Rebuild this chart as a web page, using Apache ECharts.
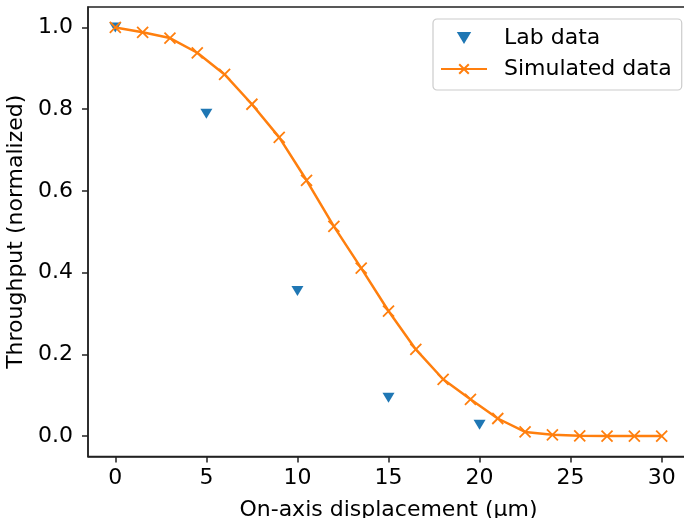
<!DOCTYPE html>
<html>
<head>
<meta charset="utf-8">
<script src="https://cdn.jsdelivr.net/npm/echarts@6/dist/echarts.min.js"></script>
<style>
html,body{margin:0;padding:0;background:#fff;}
#c{width:684px;height:518px;}
</style>
</head>
<body>
<div id="c"></div>
<script>
// ---- data ----
const labX = [0, 5, 10, 15, 20];
const labY = [1.0, 0.789, 0.355, 0.094, 0.028];
const simX = [0, 1.5, 3, 4.5, 6, 7.5, 9, 10.5, 12, 13.5, 15, 16.5, 18, 19.5, 21, 22.5, 24, 25.5, 27, 28.5, 30];
const simY = [1.0, 0.988, 0.974, 0.938, 0.885, 0.812, 0.731, 0.626, 0.513, 0.411, 0.306, 0.212, 0.139, 0.090, 0.043, 0.010, 0.003, 0.0005, 0.0, 0.0, 0.0];
const xTicks = [0, 5, 10, 15, 20, 25, 30];
const yTicks = [0.0, 0.2, 0.4, 0.6, 0.8, 1.0];
const seriesNames = ['Lab data', 'Simulated data'];
const xTitle = 'On-axis displacement (μm)';
const yTitle = 'Throughput (normalized)';

const FONT = 'DejaVu Sans';
const FS = 22;
const chart = echarts.init(document.getElementById('c'), null, {renderer: 'canvas'});
const zip = (a, b) => a.map((v, i) => [v, b[i]]);
const TRI_DOWN = 'path://M0,0L12,0L6,10Z';
const CROSS = 'path://M0,0L10,10M0,10L10,0';

chart.setOption({
  animation: false,
  backgroundColor: '#fff',
  textStyle: {fontFamily: FONT},
  grid: {left: 88, top: 7, right: -5, bottom: 61.5, containLabel: false, outerBoundsMode: 'none',
    show: true, borderColor: '#222', borderWidth: 1.5, backgroundColor: 'transparent'},
  legend: {
    orient: 'vertical',
    left: 433, top: 19,
    padding: [8, 10, 10, 7],
    itemGap: 9,
    itemWidth: 46, itemHeight: 12,
    borderColor: '#cccccc', borderWidth: 1.2, borderRadius: 4,
    backgroundColor: 'rgba(255,255,255,0.8)',
    textStyle: {fontFamily: FONT, fontSize: FS, color: '#000', padding: [0, 0, 0, 12]},
    data: [
      {name: seriesNames[0], icon: TRI_DOWN, itemStyle: {opacity: 1}},
      {name: seriesNames[1]}
    ]
  },
  xAxis: {
    type: 'value', min: -1.5, max: 31.5,
    name: xTitle, nameLocation: 'middle', nameGap: 43,
    nameTextStyle: {fontFamily: FONT, fontSize: FS, color: '#000'},
    axisLine: {show: true, onZero: false, lineStyle: {color: '#222', width: 1.5}},
    axisTick: {show: true, length: 6, customValues: xTicks, lineStyle: {color: '#222', width: 1.5}},
    axisLabel: {customValues: xTicks, margin: 11, fontFamily: FONT, fontSize: FS, color: '#000'},
    splitLine: {show: false}
  },
  yAxis: {
    type: 'value', min: -0.05, max: 1.05,
    name: yTitle, nameLocation: 'middle', nameGap: 55,
    nameTextStyle: {fontFamily: FONT, fontSize: FS, color: '#000'},
    axisLine: {show: true, onZero: false, lineStyle: {color: '#222', width: 1.5}},
    axisTick: {show: true, length: 6, customValues: yTicks, lineStyle: {color: '#222', width: 1.5}},
    axisLabel: {customValues: yTicks, margin: 15, fontFamily: FONT, fontSize: FS, color: '#000',
      formatter: v => v.toFixed(1)},
    splitLine: {show: false}
  },
  series: [
    {
      name: seriesNames[0], type: 'scatter',
      data: zip(labX, labY),
      symbol: TRI_DOWN, symbolSize: [12, 10],
      itemStyle: {color: '#1f77b4', opacity: 1},
      z: 3
    },
    {
      name: seriesNames[1], type: 'line',
      data: zip(simX, simY),
      symbol: CROSS, symbolSize: 11,
      showAllSymbol: true,
      lineStyle: {color: '#ff7f0e', width: 2.5},
      itemStyle: {color: '#ff7f0e', borderColor: '#ff7f0e', borderWidth: 1.8},
      z: 4
    }
  ]
});
</script>
</body>
</html>
